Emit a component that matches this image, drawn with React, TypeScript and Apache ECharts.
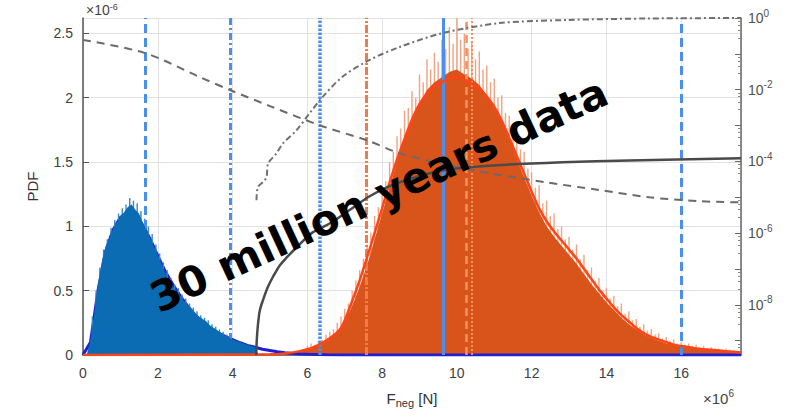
import React, { useEffect, useRef } from 'react';
import * as echarts from 'echarts';

// ---- Blue histogram (PDF, x in 1e6 N, y in 1e-6) ----
const blueHistStart = 0.0;
const blueHistStep = 0.1;
const blueHistVals = [0, 0.0, 0.12, 0.32, 0.55, 0.72, 0.84, 0.91, 0.98, 1.03, 1.08, 1.11, 1.15, 1.17, 1.13, 1.1, 1.03, 0.97, 0.91, 0.84, 0.78, 0.71, 0.64, 0.58, 0.53, 0.49, 0.46, 0.42, 0.39, 0.36, 0.33, 0.3, 0.28, 0.26, 0.23, 0.21, 0.19, 0.17, 0.15, 0.14, 0.12, 0.11, 0.1, 0.09, 0.08, 0.07, 0.06, 0];
const blueSpikeStart = 0.25;
const blueSpikeStep = 0.1;
const blueSpikeVals = [0.3, 0.5, 0.68, 0.82, 0.9, 0.99, 1.05, 1.1, 1.14, 1.17, 1.22, 1.2, 1.18, 1.12, 1.06, 1.0, 0.94, 0.86, 0.79, 0.72, 0.66, 0.6, 0.55, 0.52, 0.47, 0.44, 0.4, 0.37, 0.34, 0.31, 0.29, 0.27, 0.24, 0.22, 0.2, 0.18, 0.16, 0.15];

// ---- Orange histogram ----
const orangeHistStart = 5.0;
const orangeHistStep = 0.2;
const orangeHistVals = [0.0, 0.004, 0.01, 0.02, 0.03, 0.045, 0.06, 0.085, 0.12, 0.17, 0.26, 0.38, 0.53, 0.7, 0.9, 1.1, 1.3, 1.5, 1.68, 1.84, 1.96, 2.06, 2.12, 2.16, 2.2, 2.22, 2.18, 2.15, 2.1, 2.02, 1.93, 1.82, 1.68, 1.53, 1.38, 1.24, 1.11, 1.0, 0.92, 0.85, 0.78, 0.71, 0.63, 0.55, 0.48, 0.41, 0.35, 0.29, 0.24, 0.2, 0.16, 0.13, 0.11, 0.09, 0.075, 0.065, 0.055, 0.048, 0.042, 0.036, 0.03, 0.026, 0.022, 0.02];
const orangeSpikeStart = 6.0;
const orangeSpikeStep = 0.1;
const orangeSpikeVals = [
  0.07, 0.09, 0.08, 0.11, 0.12, 0.16, 0.18, 0.2, 0.25, 0.3,
  0.36, 0.4, 0.5, 0.58, 0.66, 0.75, 0.86, 0.95, 1.08, 1.15,
  1.28, 1.35, 1.5, 1.58, 1.7, 1.76, 1.9, 1.92, 2.05, 2.0,
  2.18, 2.12, 2.3, 2.22, 2.35, 2.28, 2.45, 2.38, 2.55, 2.42,
  2.62, 2.45, 2.5, 2.38, 2.44, 2.3, 2.36, 2.22, 2.25, 2.12,
  2.15, 2.0, 2.02, 1.88, 1.86, 1.75, 1.72, 1.6, 1.58, 1.45,
  1.42, 1.3, 1.32, 1.18, 1.2, 1.08, 1.1, 0.98, 1.0, 0.9,
  0.92, 0.82, 0.86, 0.74, 0.78, 0.66, 0.68, 0.58, 0.6, 0.5,
  0.52, 0.44, 0.46, 0.38, 0.4, 0.32, 0.34, 0.27, 0.28, 0.22,
  0.24, 0.19, 0.2, 0.16, 0.17, 0.13, 0.14, 0.11, 0.12, 0.09,
  0.1, 0.08, 0.09, 0.07, 0.08, 0.06, 0.07, 0.05, 0.06, 0.05,
  0.05, 0.04, 0.05, 0.04, 0.04, 0.03
];

// ---- Fitted PDFs ----
const blueFitX = [0, 0.2, 0.4, 0.6, 0.8, 1.0, 1.2, 1.4, 1.6, 1.8, 2.0, 2.2, 2.4, 2.6, 2.8, 3.0, 3.2, 3.4, 3.6, 3.8, 4.0, 4.2, 4.4, 4.6, 4.8, 5.0, 5.2, 5.4, 5.6, 5.8, 6.0, 6.5, 7.0, 17.6];
const blueFitY = [0, 0.1, 0.5, 0.8, 0.97, 1.07, 1.11, 1.09, 1.01, 0.9, 0.77, 0.65, 0.55, 0.46, 0.38, 0.31, 0.26, 0.21, 0.175, 0.145, 0.12, 0.095, 0.075, 0.06, 0.045, 0.035, 0.025, 0.018, 0.012, 0.008, 0.005, 0.002, 0, 0];
const orangeFitX = [0, 5.0, 5.4, 5.8, 6.2, 6.6, 6.9, 7.2, 7.4, 7.6, 7.8, 8.0, 8.2, 8.4, 8.6, 8.8, 9.0, 9.2, 9.4, 9.6, 9.8, 10.0, 10.2, 10.4, 10.6, 10.8, 11.0, 11.2, 11.4, 11.6, 11.8, 12.0, 12.2, 12.4, 12.6, 12.8, 13.0, 13.2, 13.4, 13.6, 13.8, 14.0, 14.2, 14.4, 14.6, 14.8, 15.0, 15.2, 15.4, 15.6, 15.8, 16.0, 16.4, 16.8, 17.2, 17.6];
const orangeFitY = [0, 0.005, 0.012, 0.03, 0.065, 0.13, 0.21, 0.42, 0.58, 0.76, 0.95, 1.14, 1.34, 1.52, 1.68, 1.83, 1.95, 2.03, 2.09, 2.12, 2.15, 2.16, 2.14, 2.11, 2.07, 2.01, 1.93, 1.82, 1.69, 1.55, 1.41, 1.27, 1.14, 1.04, 0.96, 0.89, 0.82, 0.75, 0.67, 0.59, 0.51, 0.44, 0.37, 0.31, 0.26, 0.21, 0.17, 0.14, 0.12, 0.1, 0.08, 0.07, 0.05, 0.04, 0.03, 0.02];

// ---- Probability curves (right log axis) ----
const exceedX = [0, 1.66, 3.13, 3.93, 5.0, 6.33, 7.59, 8.47, 9.8, 10.87, 12.4, 13.8, 15.15, 16.48, 17.6];
const exceedY = [0.245, 0.105, 0.0224, 0.0098, 0.0035, 0.00102, 3.9e-4, 1.7e-4, 7.8e-5, 4.7e-5, 2.6e-5, 1.6e-5, 1.0e-5, 7.8e-6, 7.2e-6];
const cdfX = [4.64, 4.68, 4.82, 4.91, 4.95, 5.17, 5.35, 5.71, 6.06, 6.41, 6.94, 7.67, 8.47, 9.62, 11.14, 12.93, 15.14, 17.6];
const cdfY = [8.3e-6, 1.95e-5, 2.7e-5, 3.7e-5, 8.7e-5, 1.66e-4, 3.2e-4, 7.4e-4, 2.2e-3, 6.3e-3, 0.023, 0.068, 0.155, 0.38, 0.72, 0.88, 0.97, 1.0];
const solidX = [4.634, 4.647, 4.682, 4.728, 4.808, 4.941, 5.075, 5.262, 5.449, 5.796, 6.143, 6.597, 7.131, 7.665, 8.387, 9.615, 11.058, 12.821, 14.61, 17.6];
const solidY = [4.0e-10, 1.0e-9, 3.0e-9, 6.9e-9, 1.3e-8, 3.1e-8, 5.9e-8, 1.26e-7, 2.1e-7, 4.9e-7, 1.05e-6, 1.86e-6, 4.4e-6, 1.07e-5, 2.45e-5, 5.6e-5, 7.8e-5, 9.5e-5, 1.07e-4, 1.23e-4];

// ---- Vertical reference lines ----
const vBlueDashed = [1.66, 16.0];
const vBlueDashDot = [3.94];
const vBlueDotted = [6.33];
const vBlueSolid = [9.63];
const vOrangeDashDot = [7.57];
const vOrangeDashed = [10.25];
const vOrangeDotted = [10.41];

// ---- Axis ticks ----
const xMin = 0, xMax = 17.6, xInterval = 2;
const yMin = 0, yMax = 2.62, yInterval = 0.5;
const logMin = 4.0e-10, logMax = 1;

const zip = (xs: number[], ys: number[]) => ys.map((y, i) => [xs[i], y]);
const binned = (start: number, step: number, ys: number[]) => ys.map((y, i) => [+(start + i * step).toFixed(3), y]);

const BLUE_V = '#4a8ff0';
const ORANGE_V = '#f47a45';
const FONT = 'Liberation Sans, Arial, sans-serif';

export default function App() {
  const ref = useRef<HTMLDivElement>(null);
  useEffect(() => {
    if (!ref.current) return;
    const chart = echarts.init(ref.current, undefined, { renderer: 'svg' });
    const vl = (vals: number[], color: string, type: any, width: number) =>
      vals.map((v) => ({ xAxis: v, lineStyle: { color, type, width } }));
    const option: any = {
      animation: false,
      backgroundColor: '#ffffff',
      grid: { left: 83, right: 53, top: 18, bottom: 64, containLabel: false },
      xAxis: {
        type: 'value', min: xMin, max: xMax, interval: xInterval,
        axisLine: { show: true, onZero: false, lineStyle: { color: '#555', width: 1.5 } },
        axisTick: { show: true, inside: true, length: 5, lineStyle: { color: '#555' } },
        axisLabel: { showMaxLabel: false, color: '#404040', fontSize: 14, fontFamily: FONT, margin: 11 },
        splitLine: { show: true, lineStyle: { color: '#e2e2e2', width: 1 } },
        name: 'F{sub|neg} [N]', nameLocation: 'middle', nameGap: 33,
        nameTextStyle: { fontSize: 15, color: '#333', fontFamily: FONT, rich: { sub: { fontSize: 11, fontFamily: FONT, color: '#333', padding: [9, 0, 0, 0] } } },
      },
      yAxis: [
        {
          type: 'value', min: yMin, max: yMax, interval: yInterval,
          axisLine: { show: true, lineStyle: { color: '#555', width: 1.5 } },
          axisTick: { show: true, inside: true, length: 6, lineStyle: { color: '#555' } },
          axisLabel: { showMaxLabel: false, color: '#404040', fontSize: 14, fontFamily: FONT, margin: 10 },
          splitLine: { show: true, lineStyle: { color: '#e2e2e2', width: 1 } },
          name: 'PDF', nameLocation: 'middle', nameGap: 43, nameRotate: 90,
          nameTextStyle: { fontSize: 15, color: '#333', fontFamily: FONT },
        },
        {
          type: 'log', logBase: 10, min: logMin, max: logMax, position: 'right', splitNumber: 5,
          axisLine: { show: true, lineStyle: { color: '#666', width: 1.5 } },
          axisTick: { show: true, inside: true, length: 6, lineStyle: { color: '#666' } },
          minorTick: { show: true, splitNumber: 5, length: 3, lineStyle: { color: '#888' } },
          splitLine: { show: false },
          axisLabel: {
            color: '#505050', fontSize: 14, fontFamily: FONT, margin: 7,
            formatter: (v: number) => {
              const l = Math.log10(v);
              const e = Math.round(l);
              if (Math.abs(l - e) > 1e-6 || e % 2 !== 0) return '';
              return `10{sup|${e}}`;
            },
            rich: { sup: { fontSize: 10, fontFamily: FONT, color: '#505050', padding: [0, 0, 10, 0] } },
          },
        },
      ],
      series: [
        { type: 'bar', name: 'orangeSpikes', z: 1, barWidth: 1.4, barGap: '-100%', silent: true,
          itemStyle: { color: '#efa483' }, data: binned(orangeSpikeStart, orangeSpikeStep, orangeSpikeVals) },
        { type: 'line', name: 'orangeHist', z: 2, symbol: 'none', silent: true,
          lineStyle: { width: 0 }, areaStyle: { color: '#d9541b', opacity: 1 },
          data: binned(orangeHistStart, orangeHistStep, orangeHistVals) },
        { type: 'line', name: 'blueFit', z: 3, symbol: 'none', silent: true,
          lineStyle: { color: '#1f1fd6', width: 3 }, data: zip(blueFitX, blueFitY) },
        { type: 'bar', name: 'blueSpikes', z: 4, barWidth: 1.4, barGap: '-100%', silent: true,
          itemStyle: { color: '#3f86c9' }, data: binned(blueSpikeStart, blueSpikeStep, blueSpikeVals) },
        { type: 'line', name: 'blueHist', z: 5, symbol: 'none', silent: true,
          lineStyle: { width: 0 }, areaStyle: { color: '#0b6cb3', opacity: 1 },
          data: binned(blueHistStart, blueHistStep, blueHistVals) },
        { type: 'line', name: 'orangeFit', z: 6, symbol: 'none', silent: true, smooth: 0.3,
          lineStyle: { color: '#ff4417', width: 2.5 }, data: zip(orangeFitX, orangeFitY),
          markLine: {
            silent: true, symbol: 'none', label: { show: false }, animation: false,
            data: [
              ...vl(vBlueDashed, BLUE_V, [9, 5], 3),
              ...vl(vBlueDashDot, BLUE_V, [7, 3, 2, 3], 3),
              ...vl(vBlueDotted, BLUE_V, [2.5, 1.5], 3.5),
              ...vl(vBlueSolid, BLUE_V, 'solid', 3),
              ...vl(vOrangeDashDot, ORANGE_V, [8, 2, 2, 2], 3),
              ...vl(vOrangeDashed, '#f5905f', [8, 5], 2.5),
              ...vl(vOrangeDotted, '#f5905f', [2, 2], 2),
            ],
          } },
        { type: 'line', name: 'exceedance', yAxisIndex: 1, z: 7, symbol: 'none', silent: true, smooth: 0.3,
          lineStyle: { color: '#6a6a6a', width: 2, type: [8, 6] }, data: zip(exceedX, exceedY) },
        { type: 'line', name: 'cdf', yAxisIndex: 1, z: 7, symbol: 'none', silent: true, smooth: 0.3,
          lineStyle: { color: '#707070', width: 2, type: [6, 3, 2, 3] }, data: zip(cdfX, cdfY) },
        { type: 'line', name: 'solid', yAxisIndex: 1, z: 7, symbol: 'none', silent: true, smooth: 0.3,
          lineStyle: { color: '#4a4a4a', width: 2.5 }, data: zip(solidX, solidY) },
      ],
      graphic: [
        { type: 'text', x: 86, y: 18, z: 50, style: { text: '×10{sup|-6}', fontSize: 14, fontFamily: FONT, fill: '#444', verticalAlign: 'bottom',
          rich: { sup: { fontSize: 9, fontFamily: FONT, fill: '#444', padding: [0, 0, 7, 0] } } } },
        { type: 'text', x: 703, y: 408, z: 50, style: { text: '×10{sup|6}', fontSize: 15, fontFamily: FONT, fill: '#444', verticalAlign: 'bottom',
          rich: { sup: { fontSize: 10, fontFamily: FONT, fill: '#444', padding: [0, 0, 10, 0] } } } },
        { type: 'text', x: 379, y: 195, z: 100, rotation: 0.436,
          style: { text: '30 million years data', fontSize: 42, fontWeight: 'bold', fontFamily: 'DejaVu Sans, Verdana, sans-serif', fill: '#000', align: 'center', verticalAlign: 'middle' } },
      ],
    };
    chart.setOption(option);
    return () => chart.dispose();
  }, []);
  return <div ref={ref} style={{ position: 'fixed', left: 0, top: 0, width: 794, height: 419, background: '#fff' }} />;
}
